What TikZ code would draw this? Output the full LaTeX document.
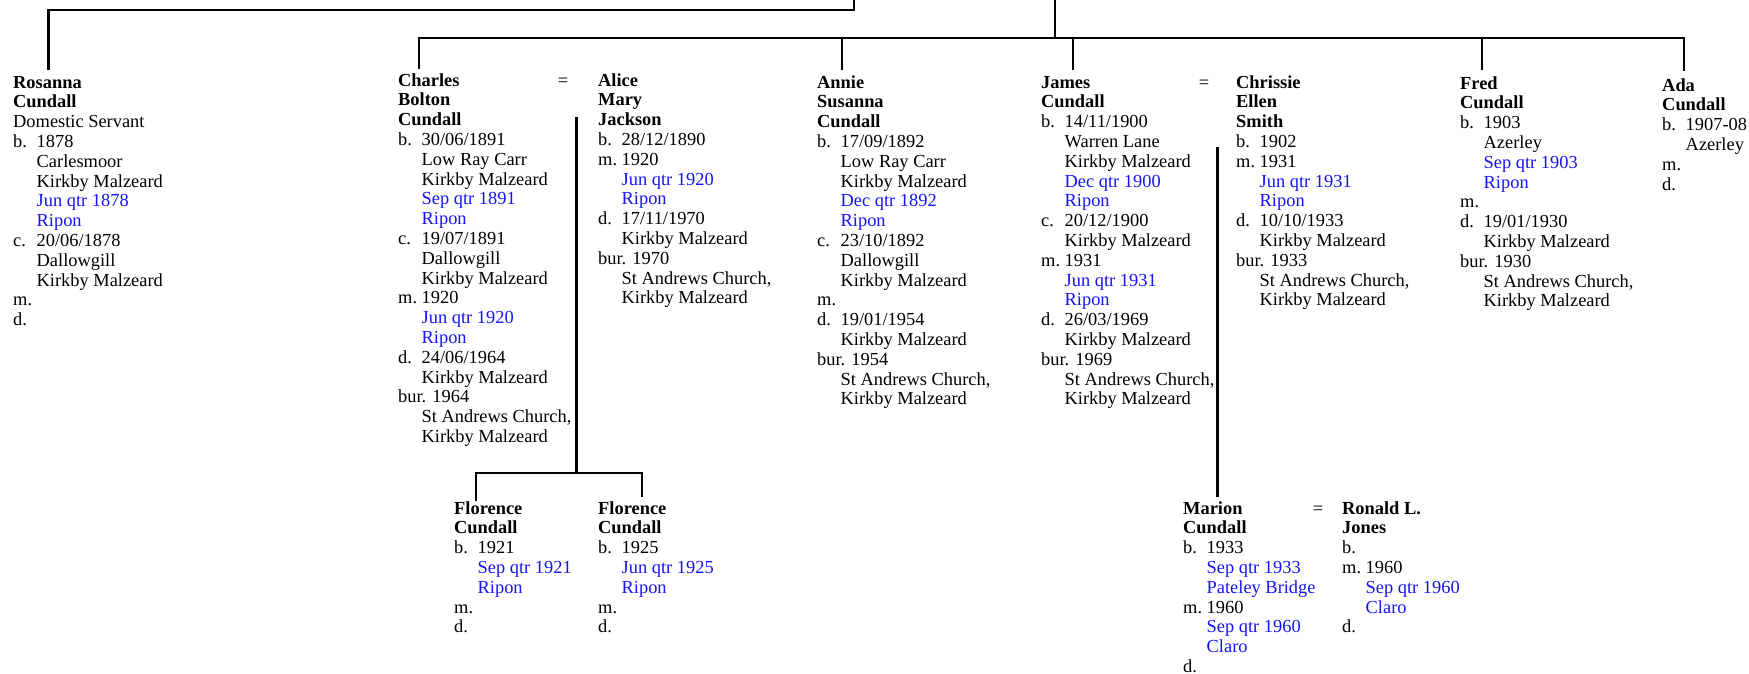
\documentclass[tikz,border=0pt]{standalone}
\usepackage{fontspec}
\setmainfont{Liberation Serif}
\usepackage{xcolor}
\definecolor{regblue}{RGB}{20,20,245}
\newlength\evind
\setlength\evind{23.5pt}
\newcommand\ev[2]{\makebox[\evind][l]{#1}#2}
\newcommand\plc[1]{\hspace*{\evind}#1}
\newcommand\reg[1]{\hspace*{\evind}\textcolor{regblue}{#1}}
\newcommand\nm[1]{\textbf{#1}}
\tikzset{
  person/.style={anchor=base west, inner sep=0pt, font=\fontsize{18.4}{19.8}\selectfont},
  eqsign/.style={anchor=base, inner sep=0pt, font=\fontsize{18.4}{19.8}\selectfont},
  conn/.style={line width=2.8pt, line join=miter, black}
}
\begin{document}
\begin{tikzpicture}[x=1pt,y=-1pt]
\useasboundingbox (0,0) rectangle (1749,673);

% ---------- people ----------
\node[person] (rosanna) at (13,88) {\begin{tabular}[t]{@{}l@{}}
\nm{Rosanna}\\ \nm{Cundall}\\ Domestic Servant\\
\ev{b.}{1878}\\ \plc{Carlesmoor}\\ \plc{Kirkby Malzeard}\\ \reg{Jun qtr 1878}\\ \reg{Ripon}\\
\ev{c.}{20/06/1878}\\ \plc{Dallowgill}\\ \plc{Kirkby Malzeard}\\
m.\\ d.
\end{tabular}};

\node[person] (charles) at (398,86) {\begin{tabular}[t]{@{}l@{}}
\nm{Charles}\\ \nm{Bolton}\\ \nm{Cundall}\\
\ev{b.}{30/06/1891}\\ \plc{Low Ray Carr}\\ \plc{Kirkby Malzeard}\\ \reg{Sep qtr 1891}\\ \reg{Ripon}\\
\ev{c.}{19/07/1891}\\ \plc{Dallowgill}\\ \plc{Kirkby Malzeard}\\
\ev{m.}{1920}\\ \reg{Jun qtr 1920}\\ \reg{Ripon}\\
\ev{d.}{24/06/1964}\\ \plc{Kirkby Malzeard}\\
bur. 1964\\ \plc{St Andrews Church,}\\ \plc{Kirkby Malzeard}
\end{tabular}};

\node[eqsign] (eq1) at (563,86) {=};

\node[person] (alice) at (598,86) {\begin{tabular}[t]{@{}l@{}}
\nm{Alice}\\ \nm{Mary}\\ \nm{Jackson}\\
\ev{b.}{28/12/1890}\\
\ev{m.}{1920}\\ \reg{Jun qtr 1920}\\ \reg{Ripon}\\
\ev{d.}{17/11/1970}\\ \plc{Kirkby Malzeard}\\
bur. 1970\\ \plc{St Andrews Church,}\\ \plc{Kirkby Malzeard}
\end{tabular}};

\node[person] (annie) at (817,88) {\begin{tabular}[t]{@{}l@{}}
\nm{Annie}\\ \nm{Susanna}\\ \nm{Cundall}\\
\ev{b.}{17/09/1892}\\ \plc{Low Ray Carr}\\ \plc{Kirkby Malzeard}\\ \reg{Dec qtr 1892}\\ \reg{Ripon}\\
\ev{c.}{23/10/1892}\\ \plc{Dallowgill}\\ \plc{Kirkby Malzeard}\\
m.\\
\ev{d.}{19/01/1954}\\ \plc{Kirkby Malzeard}\\
bur. 1954\\ \plc{St Andrews Church,}\\ \plc{Kirkby Malzeard}
\end{tabular}};

\node[person] (james) at (1041,88) {\begin{tabular}[t]{@{}l@{}}
\nm{James}\\ \nm{Cundall}\\
\ev{b.}{14/11/1900}\\ \plc{Warren Lane}\\ \plc{Kirkby Malzeard}\\ \reg{Dec qtr 1900}\\ \reg{Ripon}\\
\ev{c.}{20/12/1900}\\ \plc{Kirkby Malzeard}\\
\ev{m.}{1931}\\ \reg{Jun qtr 1931}\\ \reg{Ripon}\\
\ev{d.}{26/03/1969}\\ \plc{Kirkby Malzeard}\\
bur. 1969\\ \plc{St Andrews Church,}\\ \plc{Kirkby Malzeard}
\end{tabular}};

\node[eqsign] (eq2) at (1204,88) {=};

\node[person] (chrissie) at (1236,88) {\begin{tabular}[t]{@{}l@{}}
\nm{Chrissie}\\ \nm{Ellen}\\ \nm{Smith}\\
\ev{b.}{1902}\\
\ev{m.}{1931}\\ \reg{Jun qtr 1931}\\ \reg{Ripon}\\
\ev{d.}{10/10/1933}\\ \plc{Kirkby Malzeard}\\
bur. 1933\\ \plc{St Andrews Church,}\\ \plc{Kirkby Malzeard}
\end{tabular}};

\node[person] (fred) at (1460,89) {\begin{tabular}[t]{@{}l@{}}
\nm{Fred}\\ \nm{Cundall}\\
\ev{b.}{1903}\\ \plc{Azerley}\\ \reg{Sep qtr 1903}\\ \reg{Ripon}\\
m.\\
\ev{d.}{19/01/1930}\\ \plc{Kirkby Malzeard}\\
bur. 1930\\ \plc{St Andrews Church,}\\ \plc{Kirkby Malzeard}
\end{tabular}};

\node[person] (ada) at (1662,91) {\begin{tabular}[t]{@{}l@{}}
\nm{Ada}\\ \nm{Cundall}\\
\ev{b.}{1907-08}\\ \plc{Azerley}\\
m.\\ d.
\end{tabular}};

\node[person] (flo1) at (454,514) {\begin{tabular}[t]{@{}l@{}}
\nm{Florence}\\ \nm{Cundall}\\
\ev{b.}{1921}\\ \reg{Sep qtr 1921}\\ \reg{Ripon}\\
m.\\ d.
\end{tabular}};

\node[person] (flo2) at (598,514) {\begin{tabular}[t]{@{}l@{}}
\nm{Florence}\\ \nm{Cundall}\\
\ev{b.}{1925}\\ \reg{Jun qtr 1925}\\ \reg{Ripon}\\
m.\\ d.
\end{tabular}};

\node[person] (marion) at (1183,514) {\begin{tabular}[t]{@{}l@{}}
\nm{Marion}\\ \nm{Cundall}\\
\ev{b.}{1933}\\ \reg{Sep qtr 1933}\\ \reg{Pateley Bridge}\\
\ev{m.}{1960}\\ \reg{Sep qtr 1960}\\ \reg{Claro}\\
d.
\end{tabular}};

\node[eqsign] (eq3) at (1318,514) {=};

\node[person] (ronald) at (1342,514) {\begin{tabular}[t]{@{}l@{}}
\nm{Ronald L.}\\ \nm{Jones}\\
b.\\
\ev{m.}{1960}\\ \reg{Sep qtr 1960}\\ \reg{Claro}\\
d.
\end{tabular}};

% ---------- connector points ----------
\coordinate (topA) at (854,0);
\coordinate (barA) at (854,10);
\coordinate (rosT) at (48.7,70);

\coordinate (topB) at (1055,0);
\coordinate (barB) at (1055,38);
\coordinate (charT) at (419,69);
\coordinate (annT) at (842,70);
\coordinate (jamT) at (1073,70);
\coordinate (freT) at (1482,70);
\coordinate (adaT) at (1684,71);

\coordinate (cbTop) at (576.5,117);
\coordinate (cbBar) at (576.5,473);
\coordinate (flo1T) at (476,501);
\coordinate (flo2T) at (642,497);

\coordinate (jcTop) at (1217.5,147);
\coordinate (marT) at (1217.5,497);

% ---------- connectors ----------
\draw[conn] (topA) -- (barA) -| (rosT);
\draw[conn] (topB) -- (barB);
\draw[conn] (charT) |- (barB) -| (adaT);
\draw[conn] (annT) -- (annT |- barB);
\draw[conn] (jamT) -- (jamT |- barB);
\draw[conn] (freT) -- (freT |- barB);
\draw[conn] (cbTop) -- (cbBar);
\draw[conn] (flo1T) |- (cbBar) -| (flo2T);
\draw[conn] (jcTop) -- (marT);
\end{tikzpicture}
\end{document}
